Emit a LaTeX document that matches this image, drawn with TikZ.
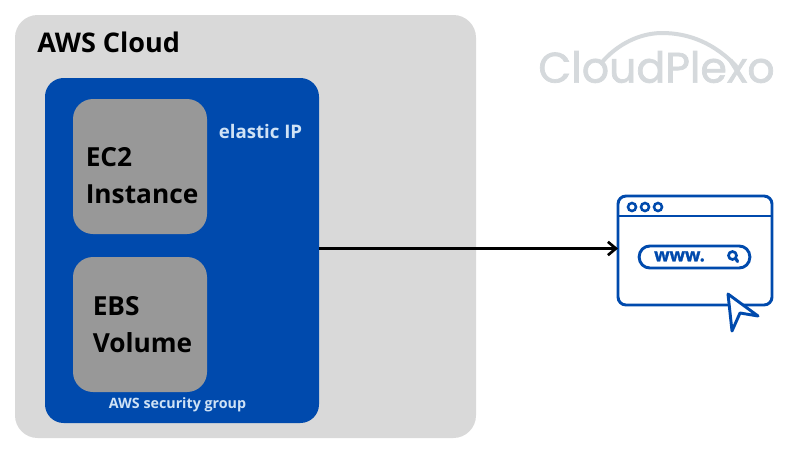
\documentclass[tikz,border=0pt]{standalone}
\usepackage{fontspec}
\setmainfont{Open Sans}
\newfontfamily\logofont[FakeBold=1.6]{Poppins}
\newfontfamily\wwwfont[FakeBold=1.5,BoldFont={Open Sans Bold}]{Open Sans}
\usetikzlibrary{arrows.meta}
\definecolor{cloudgray}{HTML}{D9D9D9}
\definecolor{awsblue}{HTML}{004AAD}
\definecolor{boxgray}{HTML}{989898}
\definecolor{iplabel}{HTML}{CFE2F5}
\definecolor{logogray}{HTML}{D5D9DC}
\tikzset{
  x=0.75pt,y=-0.75pt,
  panel/.style={rectangle,inner sep=0pt,outer sep=0pt,anchor=north west},
  cloudbox/.style={panel,fill=cloudgray,minimum width=345.75pt,minimum height=317.25pt,rounded corners=17pt},
  groupbox/.style={panel,fill=awsblue,minimum width=205.5pt,minimum height=258.75pt,rounded corners=14pt},
  compbox/.style={panel,fill=boxgray,minimum width=100.5pt,minimum height=101.25pt,rounded corners=15pt},
  complabel/.style={anchor=west,align=left,font=\fontsize{19.7}{27.8}\selectfont\bfseries,text=black,inner sep=0pt},
  windowbox/.style={rectangle,draw=awsblue,line width=2.2pt,fill=white,rounded corners=6pt,minimum width=115.5pt,minimum height=81.75pt,inner sep=0pt,outer sep=0pt},
  webline/.style={draw=awsblue,line width=2.2pt},
  flow/.style={draw=black,line width=2pt,-{Straight Barb[length=6pt,width=10pt,line width=2pt]}},
}
\begin{document}
\begin{tikzpicture}
\useasboundingbox (0,0) rectangle (800,450);
\fill[white] (0,0) rectangle (800,450);
\node[cloudbox] (cloud) at (15,15) {};
\node[anchor=west,inner sep=0pt,font=\fontsize{20.3}{24}\selectfont\bfseries] (cloudlabel) at (37,42.5) {AWS Cloud};
\node[groupbox] (sg) at (45,78) {};
\node[compbox] (ec2) at (73,99) {};
\node[compbox] (ebs) at (73,257) {};
\node[complabel] (ec2label) at (85.5,176) {EC2\\Instance};
\node[complabel] (ebslabel) at (92.5,325) {EBS\\Volume};
\node[anchor=center,inner sep=0pt,text=iplabel,font=\fontsize{14}{16}\selectfont\bfseries] (ip) at (260.5,131) {elastic IP};
\node[anchor=center,inner sep=0pt,text=iplabel,font=\fontsize{10.7}{13}\selectfont\bfseries] (sglabel) at (177.5,405) {AWS security group};
% logo
\node[anchor=center,inner sep=0pt,text=logogray,font=\logofont\fontsize{32}{36}\selectfont] (logo) at (656.5,67) {CloudPlexo};
\draw[logogray,line width=3pt,line cap=round] (603,61) .. controls (622,40) and (645,33) .. (662,33) .. controls (690,33) and (715,44) .. (736,66);
% browser
\node[windowbox] (window) at (695,250.5) {};
\path (window.west) ++(0,-2) coordinate (tip);
\draw[flow] (sg.east |- tip) -- (tip);
\draw[webline] (window.west |- 0,216) -- (window.east |- 0,216);
\foreach \n/\cx in {a/632,b/645,c/658}{
  \node[circle,draw=awsblue,line width=1.9pt,minimum size=6pt,inner sep=0pt] (dot\n) at (\cx,207) {};
}
\node[rectangle,draw=awsblue,line width=2.2pt,rounded corners=8pt,minimum width=83pt,minimum height=16.5pt,inner sep=0pt] (pill) at (694.5,257) {};
\node[anchor=center,inner sep=0pt,text=awsblue,font=\wwwfont\fontsize{13.5}{16}\selectfont\bfseries] (www) at (679.5,256.5) {www.};
\node[circle,draw=awsblue,line width=2pt,minimum size=6pt,inner sep=0pt] (lens) at (732.5,255.5) {};
\draw[awsblue,line width=2.4pt,line cap=round] (lens.south east) -- (737.5,261.5);
\draw[webline,fill=white,line join=round] (728,294) -- (758,316) -- (740,313) -- (732,331) -- cycle;
\end{tikzpicture}
\end{document}
